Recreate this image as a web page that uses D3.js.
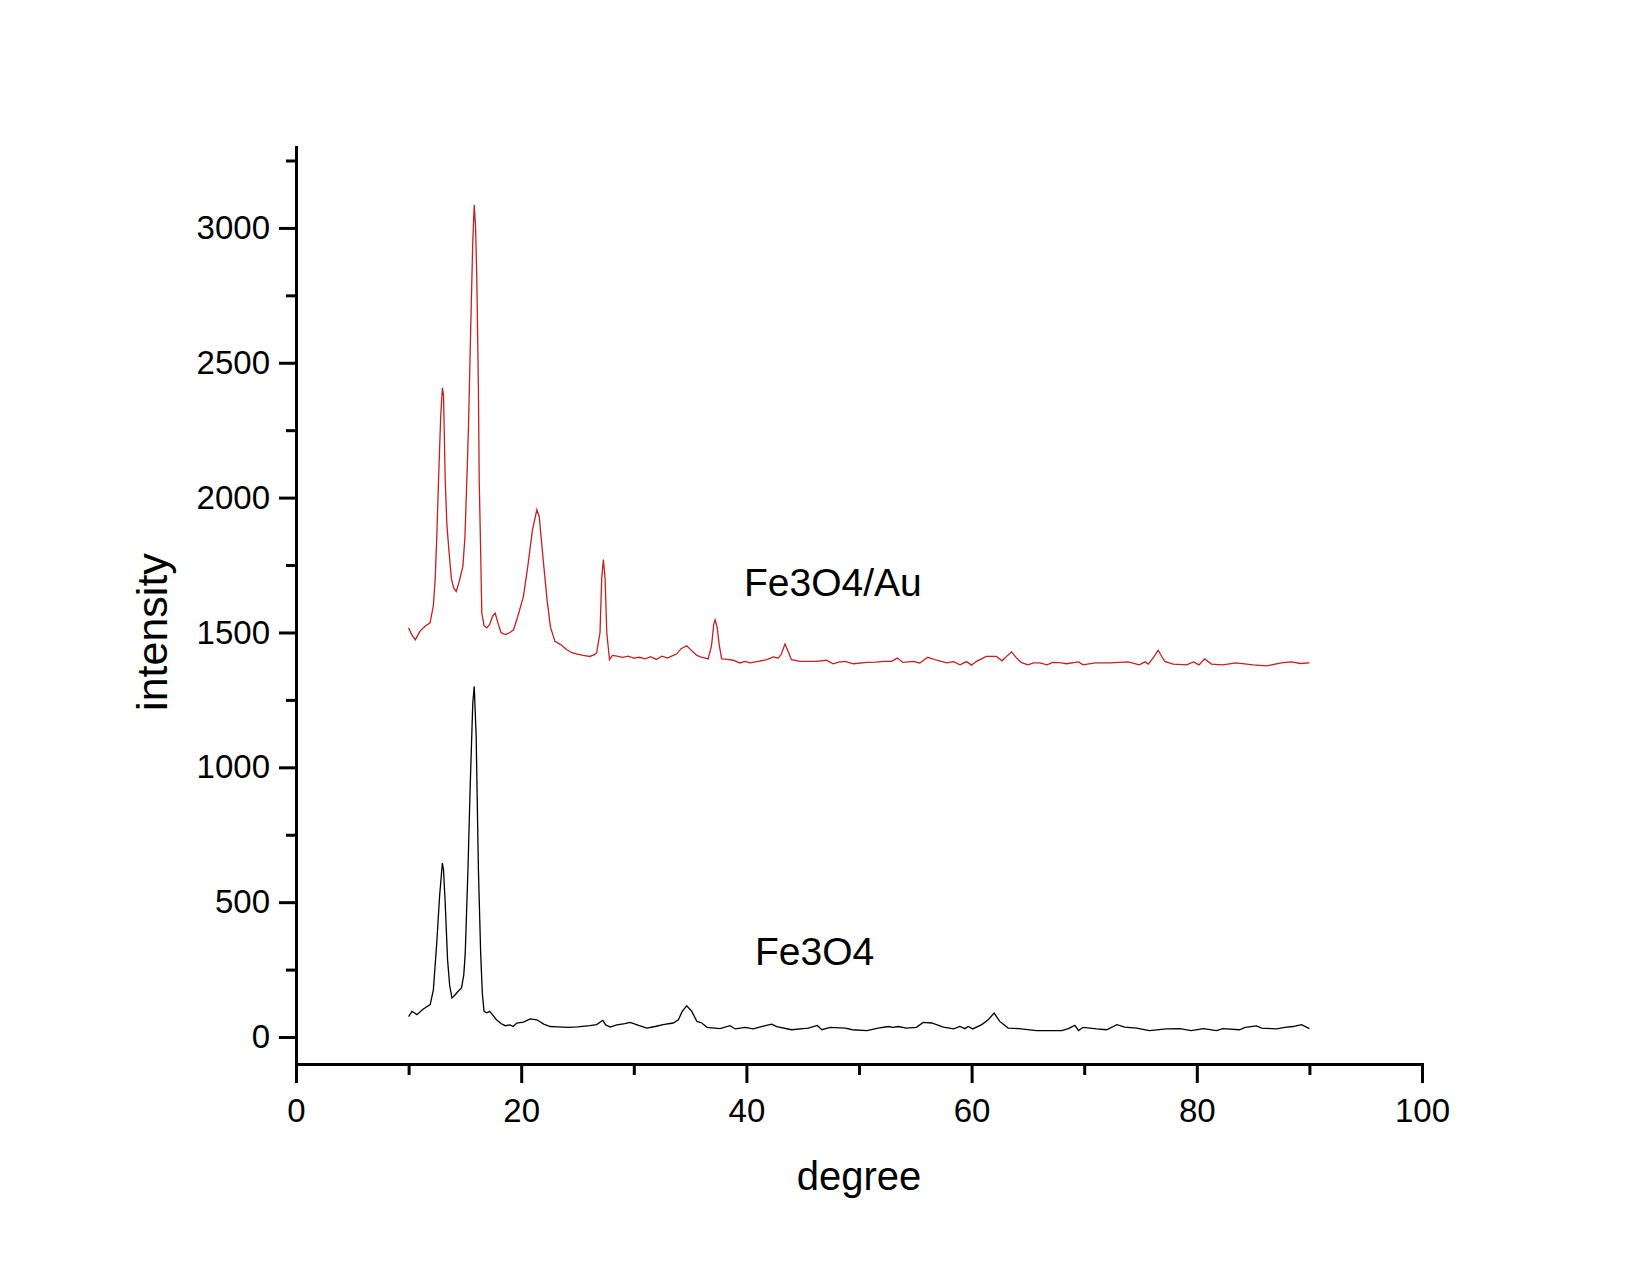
<!DOCTYPE html>
<html>
<head>
<meta charset="utf-8">
<script src="https://cdn.jsdelivr.net/npm/d3@7"></script>
<style>
	body { margin: 0; background: #fff; }
	text { font-family: "Liberation Sans", Arial, sans-serif; fill: #000; }
</style>
</head>
<body>
<div id="chart"></div>
<script>
// Fe3O4/Au trace (red)
let degreesAu = [10.0, 10.3, 10.6, 11.0, 11.5, 11.9, 12.2, 12.36, 12.5, 12.66, 12.85, 13.0, 13.1, 13.25, 13.4, 13.55, 13.8, 14.0, 14.23, 14.5,
	14.82, 15.0, 15.2, 15.32, 15.5, 15.7, 15.83, 15.95, 16.06, 16.2, 16.27, 16.4, 16.5, 16.7, 16.95, 17.2, 17.45, 17.69, 17.9, 18.2,
	18.58, 19.0, 19.32, 19.7, 20.2, 20.6, 21.0, 21.39, 21.6, 21.98, 22.3, 22.6, 23.0, 23.5, 24.05, 24.5, 25.0, 25.5, 26.1, 26.5,
	26.7, 27.0, 27.15, 27.3, 27.45, 27.6, 27.84, 28.1, 28.5, 29.0, 29.5, 30.0, 30.5, 31.0, 31.5, 32.0, 32.5, 33.0, 33.5, 33.8,
	34.2, 34.7, 35.2, 35.6, 36.0, 36.6, 36.9, 37.1, 37.22, 37.4, 37.6, 37.8, 38.3, 38.84, 39.4, 39.9, 40.3, 41.06, 41.8, 42.4,
	42.84, 43.1, 43.43, 43.7, 44.0, 44.76, 45.5, 46.2, 47.1, 47.7, 48.2, 48.76, 49.5, 50.7, 51.5, 52.16, 52.9, 53.4, 53.9, 54.8,
	55.4, 56.1, 56.9, 57.8, 58.4, 58.96, 59.56, 60.0, 60.4, 61.3, 62.2, 62.7, 63.2, 63.55, 64.0, 64.4, 65.0, 65.5, 66.07, 66.7,
	67.2, 68.0, 68.4, 69.5, 69.9, 70.95, 72.3, 73.9, 74.9, 75.4, 75.7, 76.2, 76.57, 76.9, 77.16, 77.9, 79.1, 79.7, 80.2, 80.7,
	81.3, 82.3, 83.5, 85.0, 86.2, 87.5, 88.4, 89.2, 90.0];
let intensityAu = [1517, 1490, 1473, 1504, 1525, 1535, 1600, 1696, 1850, 2067, 2300, 2407, 2380, 2067, 1900, 1819, 1700, 1665, 1652, 1690,
	1745, 1850, 2100, 2264, 2600, 2950, 3086, 3000, 2808, 2400, 2067, 1800, 1572, 1525, 1517, 1530, 1560, 1572, 1540, 1500,
	1492, 1500, 1510, 1560, 1634, 1750, 1880, 1955, 1930, 1758, 1620, 1520, 1467, 1455, 1436, 1425, 1420, 1415, 1411, 1418,
	1424, 1500, 1700, 1770, 1700, 1500, 1399, 1415, 1412, 1408, 1412, 1405, 1408, 1402, 1410, 1400, 1412, 1405, 1415, 1420,
	1440, 1451, 1430, 1415, 1409, 1402, 1450, 1530, 1547, 1520, 1450, 1402, 1400, 1397, 1387, 1393, 1387, 1393, 1399, 1409,
	1405, 1420, 1457, 1430, 1399, 1393, 1393, 1393, 1397, 1384, 1390, 1393, 1384, 1389, 1390, 1393, 1393, 1405, 1389, 1393,
	1387, 1408, 1397, 1387, 1392, 1380, 1392, 1379, 1392, 1411, 1411, 1395, 1415, 1428, 1405, 1389, 1380, 1387, 1387, 1380,
	1389, 1387, 1384, 1391, 1380, 1387, 1387, 1391, 1380, 1391, 1383, 1410, 1434, 1410, 1393, 1383, 1380, 1391, 1380, 1402,
	1383, 1380, 1387, 1380, 1376, 1387, 1391, 1385, 1387];

// Fe3O4 trace (black)
let degreesFe = [10.0, 10.3, 10.5, 10.74, 11.2, 11.6, 11.92, 12.2, 12.5, 12.75, 13.0, 13.1, 13.25, 13.46, 13.65, 13.85, 14.1, 14.3, 14.7, 14.9,
	15.03, 15.27, 15.47, 15.7, 15.83, 16.0, 16.2, 16.4, 16.55, 16.7, 16.95, 17.2, 17.5, 17.8, 18.2, 18.58, 19.0, 19.3, 19.6, 20.2,
	20.8, 21.4, 22.0, 22.57, 23.2, 24.2, 25.0, 26.1, 26.7, 27.25, 27.5, 27.9, 28.5, 29.2, 29.67, 30.3, 31.15, 32.0, 32.6, 33.5,
	33.96, 34.3, 34.7, 35.15, 35.6, 36.04, 36.5, 37.66, 38.55, 39.0, 39.9, 40.6, 41.5, 42.25, 42.7, 44.0, 45.5, 46.3, 46.7, 47.44,
	48.8, 49.4, 50.7, 51.7, 52.6, 53.0, 53.5, 54.2, 55.1, 55.7, 56.45, 57.5, 58.4, 58.96, 59.4, 59.7, 60.1, 60.9, 61.5, 62.0,
	62.5, 63.25, 64.2, 65.77, 68.0, 68.6, 69.17, 69.5, 69.9, 71.1, 72.0, 72.9, 73.6, 74.65, 75.8, 77.3, 78.5, 79.5, 80.6, 81.75,
	82.3, 83.8, 84.3, 85.3, 85.75, 87.1, 87.8, 88.55, 89.3, 90.0];
let intensityFe = [76, 95, 90, 83, 100, 112, 120, 175, 349, 521, 645, 620, 497, 287, 190, 145, 155, 165, 182, 230,
	311, 620, 929, 1238, 1300, 1115, 620, 311, 160, 95, 90, 95, 80, 64, 50, 42, 45, 39, 52, 55,
	67, 64, 48, 39, 38, 36, 38, 42, 46, 62, 45, 37, 45, 50, 54, 45, 33, 40, 46, 52,
	64, 95, 116, 95, 58, 52, 36, 31, 42, 30, 36, 30, 40, 48, 39, 27, 33, 43, 27, 36,
	33, 27, 24, 33, 39, 36, 39, 33, 36, 54, 52, 37, 30, 39, 31, 39, 30, 46, 65, 89,
	58, 33, 31, 24, 24, 31, 43, 24, 36, 30, 27, 46, 37, 33, 24, 30, 31, 24, 31, 24,
	31, 27, 36, 41, 33, 30, 36, 39, 46, 31];

let xTicks = [0, 20, 40, 60, 80, 100];
let xMinorTicks = [10, 30, 50, 70, 90];
let yTicks = [0, 500, 1000, 1500, 2000, 2500, 3000];
let yMinorTicks = [250, 750, 1250, 1750, 2250, 2750, 3250];

var width = 1650,
	height = 1274;
var svg = d3.select("#chart").append("svg")
	.attr("width", width)
	.attr("height", height);

var xScale = d3.scaleLinear()
	.domain([0, 100])
	.range([296, 1422]);
var yScale = d3.scaleLinear()
	.domain([-100, 3300])
	.range([1064, 147]);

var line = d3.line()
	.x(function (d) { return xScale(d[0]); })
	.y(function (d) { return yScale(d[1]); });

svg.append("path")
	.datum(d3.zip(degreesFe, intensityFe))
	.attr("d", line)
	.attr("fill", "none")
	.attr("stroke", "#000")
	.attr("stroke-width", 1.3);

svg.append("path")
	.datum(d3.zip(degreesAu, intensityAu))
	.attr("d", line)
	.attr("fill", "none")
	.attr("stroke", "#c81e1e")
	.attr("stroke-width", 1.3);

// minor ticks first, then majors with the axis line
svg.append("g")
	.attr("transform", "translate(0,1064)")
	.call(d3.axisBottom(xScale).tickValues(xMinorTicks).tickSize(11).tickSizeOuter(0).tickFormat(""))
	.call(g => g.select(".domain").remove());
svg.append("g")
	.attr("transform", "translate(296,0)")
	.call(d3.axisLeft(yScale).tickValues(yMinorTicks).tickSize(10).tickSizeOuter(0).tickFormat(""))
	.call(g => g.select(".domain").remove());

var xAxis = svg.append("g")
	.attr("transform", "translate(0,1064)")
	.call(d3.axisBottom(xScale).tickValues(xTicks).tickSize(19).tickSizeOuter(0).tickFormat(d3.format("d")));
xAxis.selectAll("text")
	.attr("y", 58)
	.attr("dy", null);

var yAxis = svg.append("g")
	.attr("transform", "translate(296,0)")
	.call(d3.axisLeft(yScale).tickValues(yTicks).tickSize(17).tickPadding(9).tickSizeOuter(0).tickFormat(d3.format("d")));

svg.selectAll(".tick line").attr("stroke-width", 3);
svg.selectAll(".domain").attr("stroke-width", 3).attr("stroke-linecap", "square");
svg.selectAll(".tick text")
	.attr("font-size", 33)
	.attr("font-family", "Liberation Sans, Arial, sans-serif")
	.attr("fill", "#000");

svg.append("text")
	.attr("x", 859)
	.attr("y", 1190)
	.attr("text-anchor", "middle")
	.attr("font-size", 40)
	.text("degree");

svg.append("text")
	.attr("transform", "translate(167,632) rotate(-90)")
	.attr("text-anchor", "middle")
	.attr("font-size", 43)
	.text("intensity");

svg.append("text")
	.attr("x", 744)
	.attr("y", 596)
	.attr("font-size", 39)
	.text("Fe3O4/Au");

svg.append("text")
	.attr("x", 755)
	.attr("y", 965)
	.attr("font-size", 39)
	.text("Fe3O4");
</script>
</body>
</html>
